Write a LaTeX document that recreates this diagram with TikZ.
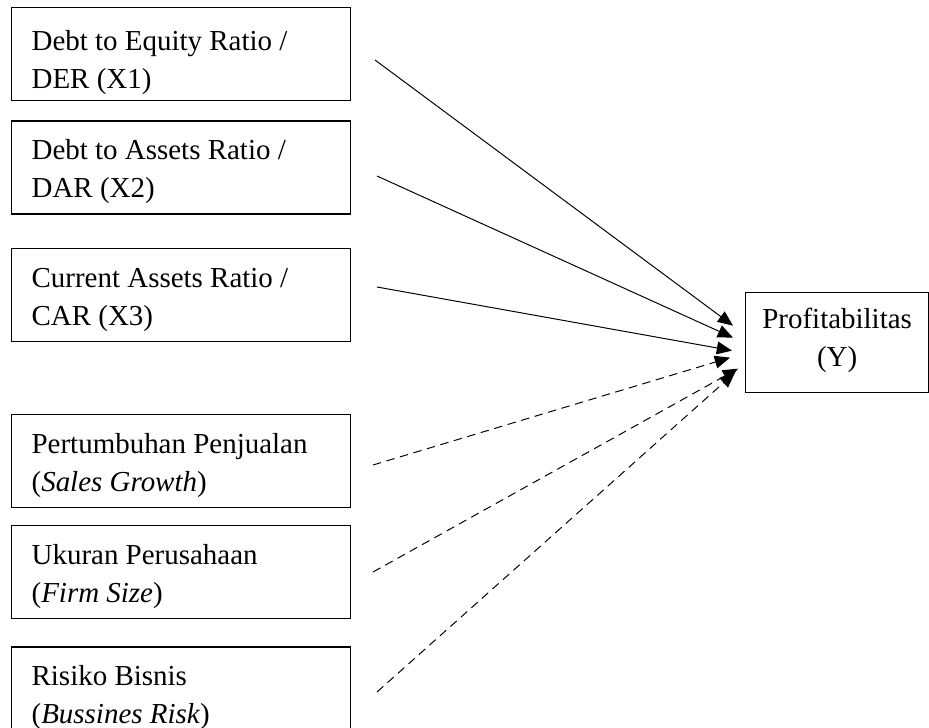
\documentclass[tikz,border=0pt]{standalone}
\usepackage{fontspec}
\setmainfont{Liberation Serif}
\usetikzlibrary{positioning,arrows.meta}

\begin{document}
\begin{tikzpicture}[
        block/.style={draw, rectangle, line width=0.9pt, inner xsep=0.5cm, inner ysep=0pt, text width=7.475cm, align=flush left, text height=0.975cm, text depth=1.35cm},
        target/.style={draw, rectangle, line width=0.9pt, inner xsep=0.25cm, inner ysep=0pt, text width=4.075cm, align=flush center, text height=0.9cm, text depth=1.6cm},
        arrow/.style={-{Triangle[length=0.38cm, width=0.32cm]}, line width=0.7pt},
        dasharrow/.style={arrow, dash pattern=on 6pt off 4pt},
        font=\fontsize{20.6pt}{27pt}\selectfont
    ]

    \useasboundingbox (0,0) rectangle (23.225,-18.175);

    % Nodes
    \node[block, anchor=north west, text height=1.075cm, text depth=1.25cm] (der) at (0.275,-0.175) {Debt to Equity Ratio /\\DER (X1)};
    \node[block, below=0.475cm of der] (dar) {Debt to Assets Ratio /\\DAR (X2)};
    \node[block, below=0.825cm of dar] (car) {Current Assets Ratio /\\CAR (X3)};
    \node[block, below=1.8cm of car] (growth) {Pertumbuhan Penjualan\\(\textit{Sales Growth})};
    \node[block, below=0.425cm of growth] (size) {Ukuran Perusahaan\\(\textit{Firm Size})};
    \node[block, below=0.675cm of size] (risk) {Risiko Bisnis\\(\textit{Bussines Risk})};
    \node[target, anchor=north west] (prof) at (18.625,-7.3) {Profitabilitas\\(Y)};

    % Start points
    \coordinate (s1) at (9.375,-1.5);
    \coordinate (s2) at (9.425,-4.4);
    \coordinate (s3) at (9.425,-7.175);
    \coordinate (s4) at (9.325,-11.625);
    \coordinate (s5) at (9.325,-14.3);
    \coordinate (s6) at (9.425,-17.3);

    % Arrows
    \draw[arrow] (s1) -- ([shift={(-0.3,0.425)}]prof.west);
    \draw[arrow] (s2) -- ([shift={(-0.3,0.125)}]prof.west);
    \draw[arrow] (s3) -- ([shift={(-0.325,-0.2)}]prof.west);
    \draw[dasharrow] (s4) -- ([shift={(-0.375,-0.375)}]prof.west);
    \draw[dasharrow] (s5) -- ([shift={(-0.175,-0.65)}]prof.west);
    \draw[dasharrow] (s6) -- ([shift={(-0.25,-0.75)}]prof.west);

\end{tikzpicture}
\end{document}
